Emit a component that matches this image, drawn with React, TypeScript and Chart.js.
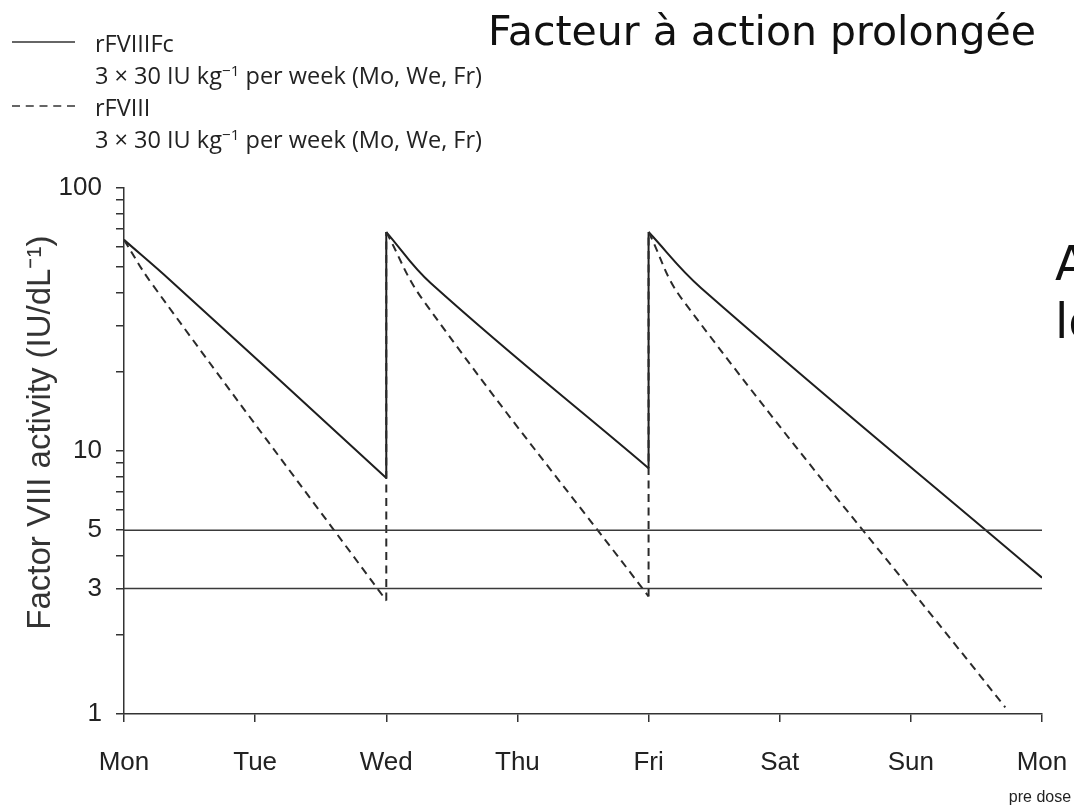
import React, { useEffect, useRef } from "react";
import { Chart, registerables } from "chart.js";

Chart.register(...registerables);

// ---- data ----
const dayLabels = ["Mon", "Tue", "Wed", "Thu", "Fri", "Sat", "Sun", "Mon"];
const yTickValues = [1, 2, 3, 4, 5, 6, 7, 8, 9, 10, 20, 30, 40, 50, 60, 70, 80, 90, 100];
const yLabelledTicks = [1, 3, 5, 10, 100];

// rFVIIIFc (solid)
const fcDays = [0, 0.35, 2, 2, 2.34, 4, 4, 4.4, 7];
const fcValues = [63.5, 44.7, 7.9, 68, 43.4, 8.6, 68, 41.7, 3.3];

// rFVIII (dashed)
const f8Days = [0, 0.21, 2, 2, 2.28, 4, 4, 4.26, 6.72];
const f8Values = [63.5, 43.4, 2.7, 68, 37.5, 2.8, 68, 37.5, 1.06];

// threshold reference lines
const thresholdValues = [5, 3];
const thresholdDays = [0, 7];

const titleText = "Facteur à action prolongée";
const yAxisTitle = "Factor VIII activity (IU/dL⁻¹)";

type Pt = { x: number; y: number };

// split a series at repeated x values (dose jumps) into decay curves and vertical jumps
function splitSeries(xs: number[], ys: number[]) {
  const curves: Pt[][] = [];
  const jumps: Pt[][] = [];
  let cur: Pt[] = [];
  for (let i = 0; i < xs.length; i++) {
    const p = { x: xs[i], y: ys[i] };
    if (i > 0 && xs[i] === xs[i - 1]) {
      jumps.push([{ x: xs[i - 1], y: ys[i - 1] }, p]);
      curves.push(cur);
      cur = [p];
    } else {
      cur.push(p);
    }
  }
  if (cur.length) curves.push(cur);
  return { curves, jumps };
}

export default function App() {
  const canvasRef = useRef<HTMLCanvasElement | null>(null);

  useEffect(() => {
    const canvas = canvasRef.current;
    if (!canvas) return;

    const fc = splitSeries(fcDays, fcValues);
    const f8 = splitSeries(f8Days, f8Values);
    const solidStyle = { borderColor: "#1e1e1e", borderWidth: 2, pointRadius: 0, fill: false };
    const dashStyle = { borderColor: "#2a2a2a", borderWidth: 2, borderDash: [8, 5.5], pointRadius: 0, fill: false };

    const datasets: any[] = [
      ...thresholdValues.map((v) => ({
        label: "threshold " + v,
        data: thresholdDays.map((d) => ({ x: d, y: v })),
        borderColor: "#3a3a3a",
        borderWidth: 1.5,
        pointRadius: 0,
        fill: false,
      })),
      ...f8.curves.map((c, i) => ({ label: "rFVIII " + i, data: c, tension: 0.4, ...dashStyle })),
      ...f8.jumps.map((c, i) => ({ label: "rFVIII dose " + i, data: c, tension: 0, ...dashStyle })),
      ...fc.curves.map((c, i) => ({ label: "rFVIIIFc " + i, data: c, tension: 0.4, ...solidStyle })),
      ...fc.jumps.map((c, i) => ({ label: "rFVIIIFc dose " + i, data: c, tension: 0, ...solidStyle })),
    ];

    const chart = new Chart(canvas, {
      type: "line",
      data: { datasets },
      options: {
        animation: false,
        responsive: false,
        maintainAspectRatio: false,
        layout: { padding: { top: 188, right: 32, left: 0, bottom: 0 } },
        plugins: { legend: { display: false }, tooltip: { enabled: false } },
        scales: {
          x: {
            type: "linear",
            min: 0,
            max: 7,
            afterBuildTicks: (s: any) => {
              s.ticks = dayLabels.map((_, i) => ({ value: i }));
            },
            afterFit: (s: any) => {
              s.height = 93;
              s.paddingLeft = 0;
              s.paddingRight = 0;
            },
            ticks: {
              autoSkip: false,
              maxRotation: 0,
              minRotation: 0,
              padding: 25,
              color: "#222",
              font: { family: "'Liberation Sans', Arial, sans-serif", size: 26 },
              callback: (v: any) => dayLabels[Math.round(Number(v))],
            },
            grid: {
              drawOnChartArea: false,
              drawTicks: true,
              tickLength: 8,
              color: "#333",
              lineWidth: 1.5,
            },
            border: { display: true, color: "#333", width: 1.5 },
          },
          y: {
            type: "logarithmic",
            min: 1,
            max: 100,
            afterBuildTicks: (s: any) => {
              s.ticks = yTickValues.map((v) => ({ value: v }));
            },
            afterFit: (s: any) => {
              s.width = 124;
              s.paddingTop = 0;
              s.paddingBottom = 0;
            },
            ticks: {
              autoSkip: false,
              padding: 14,
              color: "#222",
              font: { family: "'Liberation Sans', Arial, sans-serif", size: 26 },
              callback: (v: any) => (yLabelledTicks.includes(Number(v)) ? String(v) : ""),
            },
            grid: {
              drawOnChartArea: false,
              drawTicks: true,
              tickLength: 8,
              color: "#333",
              lineWidth: 1.5,
            },
            border: { display: true, color: "#333", width: 1.5 },
            title: {
              display: true,
              text: "    " + yAxisTitle,
              color: "#333",
              padding: { top: 21, bottom: 0 },
              font: { family: "'Liberation Sans', Arial, sans-serif", size: 33, weight: "normal" },
            },
          },
        },
      },
    });
    return () => chart.destroy();
  }, []);

  const sup = { fontSize: "0.65em", lineHeight: 0, verticalAlign: "0.55em" } as const;

  return (
    <div
      style={{
        position: "fixed",
        left: 0,
        top: 0,
        width: 1074,
        height: 807,
        overflow: "hidden",
        background: "#fff",
      }}
    >
      <canvas
        ref={canvasRef}
        width={1074}
        height={807}
        style={{ position: "absolute", left: 0, top: 0, width: 1074, height: 807 }}
      />
      <svg width={90} height={150} style={{ position: "absolute", left: 0, top: 0 }}>
        <line x1={12} x2={75} y1={42} y2={42} stroke="#333" strokeWidth={1.4} />
        <line x1={12} x2={75} y1={106} y2={106} stroke="#333" strokeWidth={1.4} strokeDasharray="8 5.75" />
      </svg>
      <div
        style={{
          position: "absolute",
          left: 95,
          top: 27,
          fontFamily: "'Open Sans', sans-serif",
          fontSize: 23.5,
          lineHeight: "32px",
          color: "#222",
          whiteSpace: "nowrap",
        }}
      >
        <div>rFVIIIFc</div>
        <div>
          3 × 30 IU kg<sup style={sup}>−1</sup> per week (Mo, We, Fr)
        </div>
        <div>rFVIII</div>
        <div>
          3 × 30 IU kg<sup style={sup}>−1</sup> per week (Mo, We, Fr)
        </div>
      </div>
      <div
        style={{
          position: "absolute",
          left: 488,
          top: 7,
          fontFamily: "'DejaVu Sans', sans-serif",
          fontSize: 41,
          lineHeight: "48px",
          color: "#111",
          whiteSpace: "nowrap",
        }}
      >
        {titleText}
      </div>
      <div
        style={{
          position: "absolute",
          left: 1055,
          top: 234,
          fontFamily: "'DejaVu Sans', sans-serif",
          fontSize: 48,
          lineHeight: "58px",
          color: "#111",
          whiteSpace: "nowrap",
        }}
      >
        <div>A</div>
        <div>lo</div>
      </div>
      <div
        style={{
          position: "absolute",
          left: 998,
          top: 787,
          width: 84,
          textAlign: "center",
          fontFamily: "'Liberation Sans', Arial, sans-serif",
          fontSize: 16,
          lineHeight: "20px",
          color: "#222",
          whiteSpace: "nowrap",
        }}
      >
        pre dose
      </div>
    </div>
  );
}
